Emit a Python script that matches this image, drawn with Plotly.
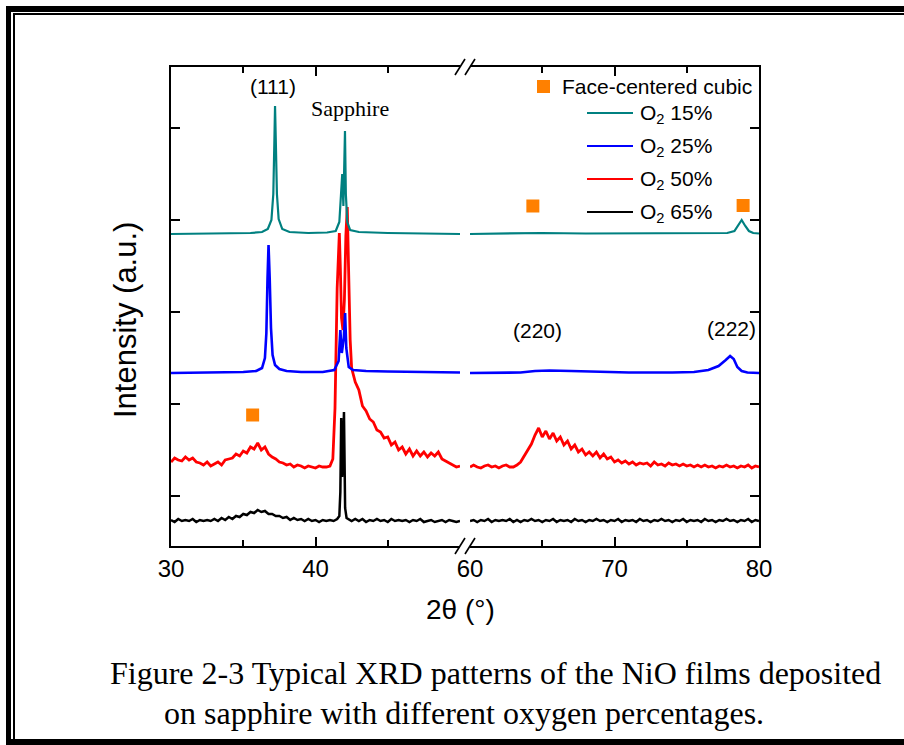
import numpy as np
import plotly.graph_objects as go

# ---------------------------------------------------------------------------
# XRD patterns of NiO films on sapphire (stacked, arbitrary units)
# Intensities are relative to each pattern's own baseline.
# ---------------------------------------------------------------------------

# O2 15 %  (teal)
O2_15_LEFT_X = [30, 32, 34, 35.5, 36.3, 36.7, 36.95, 37.08, 37.15, 37.2,
                37.25, 37.33, 37.45, 37.7, 38.2, 39.5, 40.8, 41.4, 41.65, 41.78,
                41.85, 41.93, 42.0, 42.04, 42.1, 42.2, 42.4, 43.0, 45.0, 47.0, 50.0]
O2_15_LEFT_Y = [0, 0.5, 0.5, 1, 2, 5, 14, 40, 90, 128,
                95, 40, 15, 5, 2, 1, 1.5, 3, 12, 45,
                60, 28, 95, 103, 40, 12, 4, 2, 1, 0.5, 0]
O2_15_RIGHT_X = [60, 63, 65, 68, 72, 76, 77.8, 78.3, 78.55, 78.8, 79.05, 79.3, 79.6, 80]
O2_15_RIGHT_Y = [0, 0.5, 1, 0.5, 0.5, 0.5, 1, 3, 8, 14, 8, 3, 1, 0.5]

# O2 25 %  (blue)
O2_25_LEFT_X = [30, 33, 35, 35.9, 36.3, 36.5, 36.6, 36.68, 36.75, 36.83,
                36.92, 37.03, 37.2, 37.5, 38.0, 39.0, 40.5, 41.3, 41.6, 41.72,
                41.82, 41.96, 42.05, 42.13, 42.3, 42.6, 43.5, 45.0, 47.0, 50.0]
O2_25_LEFT_Y = [0, 0.5, 1, 2, 5, 15, 40, 95, 128, 95,
                45, 18, 8, 4, 2, 1, 1, 3, 12, 43,
                20, 35, 60, 25, 6, 3, 2, 1.5, 1, 0.5]
O2_25_RIGHT_X = [60, 62, 63.5, 64.5, 65.5, 67, 69, 71, 74, 75.5,
                 76.5, 77.2, 77.7, 78.0, 78.25, 78.5, 78.8, 79.2, 80]
O2_25_RIGHT_Y = [0, 0, 0.5, 2, 2.5, 2, 1, 0.5, 0.5, 1,
                 3, 7, 13, 17, 14, 6, 2, 0.5, 0]

# O2 50 %  (red) -- scan steps of 0.25 deg plus the sapphire region
O2_50_LOW = [6, 10, 8, 7,      # 30
             11, 8, 10, 6,     # 31
             5, 3, 6, 2,       # 32
             4, 6, 3, 8,       # 33
             9, 10, 14, 12,    # 34
             17, 15, 21, 19,   # 35
             25, 18, 21, 14,   # 36
             11, 9, 6, 5,      # 37
             3, 4, 1, 3,       # 38
             2, 0, 2, 1,       # 39
             0, 2, 1, 1,       # 40
             2]                # 41.00
O2_50_PEAK_X = [41.2, 41.35, 41.5, 41.6, 41.65, 41.72, 41.8, 41.9, 42.0, 42.1,
                42.2, 42.28, 42.4]
O2_50_PEAK_Y = [9, 60, 180, 226, 235, 200, 150, 138, 168, 232,
                261, 205, 128]
O2_50_HIGH = [100, 86,           # 42.5
              78, 62, 57, 49,    # 43
              46, 38, 36, 30,    # 44
              31, 23, 26, 18,    # 45
              21, 14, 19, 12,    # 46
              17, 12, 16, 11,    # 47
              15, 12, 16, 9,     # 48
              7, 5, 3, 1,        # 49
              2]                 # 50
O2_50_RIGHT = [1, 3, 1, 0,       # 60
               2, 3, 1, 2,       # 61
               0, 2, 3, 1,       # 62
               1, 3, 6, 12,      # 63
               18, 24, 33, 40,   # 64
               31, 37, 29, 35,   # 65
               27, 31, 23, 27,   # 66
               19, 23, 16, 19,   # 67
               13, 16, 12, 16,   # 68
               10, 14, 9, 11,    # 69
               6, 8, 5, 7,       # 70
               4, 6, 3, 5,       # 71
               4, 5, 2, 6,       # 72
               3, 4, 2, 5,       # 73
               3, 4, 2, 4,       # 74
               2, 3, 1, 3,       # 75
               1, 3, 1, 2,       # 76
               0, 2, 1, 3,       # 77
               1, 2, 0, 2,       # 78
               1, 3, 0, 2,       # 79
               1]                # 80

# O2 65 %  (black)
O2_65_LOW = [2, 0, 3, 1,         # 30
             2, 1, 3, 0,         # 31
             2, 1, 2, 1,         # 32
             3, 1, 4, 2,         # 33
             5, 3, 6, 5,         # 34
             8, 7, 10, 9,        # 35
             12, 10, 11, 8,      # 36
             8, 6, 6, 4,         # 37
             5, 2, 4, 2,         # 38
             3, 1, 3, 1,         # 39
             2, 0, 2, 1,         # 40
             2, 1, 3]            # 41.0 - 41.5
O2_65_PEAK_X = [41.65, 41.72, 41.78, 41.84, 41.9, 41.97, 42.05, 42.15]
O2_65_PEAK_Y = [6, 30, 104, 45, 60, 110, 14, 4]
O2_65_HIGH = [3, 1, 3,           # 42.25 - 42.75
              1, 3, 0, 2,        # 43
              1, 3, 1, 2,        # 44
              0, 3, 1, 2,        # 45
              1, 2, 0, 2,        # 46
              1, 3, 0, 1,        # 47
              2, 0, 1, 2,        # 48
              0, 2, 1, 0,        # 49
              1]                 # 50
O2_65_RIGHT = [1, 2, 0, 2,  1, 3, 0, 2,  1, 2, 1, 3,  0, 2, 0, 2,
               1, 3, 1, 2,  0, 2, 1, 3,  0, 2, 1, 2,  0, 3, 1, 2,
               0, 2, 1, 3,  1, 2, 0, 2,  1, 3, 0, 2,  1, 2, 0, 3,
               1, 2, 0, 2,  1, 3, 1, 2,  0, 2, 1, 3,  0, 2, 1, 2,
               0, 3, 1, 2,  0, 2, 1, 3,  1, 2, 0, 2,  1, 3, 0, 2,
               1]

# Face-centred cubic reflections marked on the patterns
FCC_LEFT_X, FCC_LEFT_Y = [35.65], [131]
FCC_RIGHT_X, FCC_RIGHT_Y = [64.35, 78.9], [340, 340.5]

SERIES_NAMES = ["O<sub>2</sub> 15%", "O<sub>2</sub> 25%", "O<sub>2</sub> 50%", "O<sub>2</sub> 65%"]
TICKS_LEFT = [30, 40]
TICKS_RIGHT = [60, 70, 80]

# ---------------------------------------------------------------------------
# vertical stacking offsets and styles
OFFSET = {"15": 312, "25": 173, "50": 78, "65": 24}
COLOR = {"15": "#008080", "25": "#0000FF", "50": "#FF0000", "65": "#000000"}
WIDTH = {"15": 2.2, "25": 2.6, "50": 2.8, "65": 2.5}
ORANGE = "#FF8000"
SANS = "Liberation Sans"
SERIF = "Liberation Serif"

step_low = np.arange(30, 41.001, 0.25)
step_right = np.arange(60, 80.001, 0.25)

curves = {
    "15": (O2_15_LEFT_X, O2_15_LEFT_Y, O2_15_RIGHT_X, O2_15_RIGHT_Y),
    "25": (O2_25_LEFT_X, O2_25_LEFT_Y, O2_25_RIGHT_X, O2_25_RIGHT_Y),
    "50": (np.concatenate([step_low, O2_50_PEAK_X, np.arange(42.5, 50.001, 0.25)]),
           np.concatenate([O2_50_LOW, O2_50_PEAK_Y, O2_50_HIGH]),
           step_right, O2_50_RIGHT),
    "65": (np.concatenate([np.arange(30, 41.501, 0.25), O2_65_PEAK_X, np.arange(42.25, 50.001, 0.25)]),
           np.concatenate([O2_65_LOW, O2_65_PEAK_Y, O2_65_HIGH]),
           step_right, O2_65_RIGHT),
}

fig = go.Figure()
for key in ["65", "50", "25", "15"]:
    lx, ly, rx, ry = curves[key]
    line = dict(color=COLOR[key], width=WIDTH[key])
    fig.add_trace(go.Scatter(x=lx, y=np.asarray(ly, float) + OFFSET[key], mode="lines",
                             line=line, xaxis="x", yaxis="y", showlegend=False,
                             hoverinfo="skip"))
    fig.add_trace(go.Scatter(x=rx, y=np.asarray(ry, float) + OFFSET[key], mode="lines",
                             line=line, xaxis="x2", yaxis="y2", showlegend=False,
                             hoverinfo="skip"))

square = dict(symbol="square", size=13, color=ORANGE)
fig.add_trace(go.Scatter(x=FCC_LEFT_X, y=FCC_LEFT_Y, mode="markers", marker=square,
                         xaxis="x", yaxis="y", showlegend=False))
fig.add_trace(go.Scatter(x=FCC_RIGHT_X, y=FCC_RIGHT_Y, mode="markers", marker=square,
                         xaxis="x2", yaxis="y2", showlegend=False))

# ---------------------------------------------------------------------------
# frame geometry (pixels of the 904 x 745 page)
L, R, T, B = 171, 759, 67, 546
W, H = R - L, B - T


def px(x):
    return (x - L) / W


def py(y):
    return (B - y) / H


tickfont = dict(family=SANS, size=24, color="black")
xcommon = dict(ticks="inside", ticklen=9, tickwidth=1.5, tickcolor="black",
               showline=True, linewidth=2, linecolor="black", mirror="ticks",
               showgrid=False, zeroline=False, tickfont=tickfont)
ycommon = dict(domain=[0, 1], range=[0, H], tickvals=[50, 142, 234, 326, 418],
               showticklabels=False, ticks="inside", ticklen=9, tickwidth=1.5,
               tickcolor="black", showline=True, linewidth=2, linecolor="black",
               showgrid=False, zeroline=False)

fig.update_layout(
    width=904, height=745,
    margin=dict(l=L, r=904 - R, t=T, b=745 - B),
    paper_bgcolor="white", plot_bgcolor="white",
    xaxis=dict(domain=[0, px(460)], range=[30, 50], tickvals=TICKS_LEFT, anchor="y",
               minor=dict(tickvals=[35, 45], ticks="inside", ticklen=6, tickwidth=1.5,
                          tickcolor="black"),
               **xcommon),
    xaxis2=dict(domain=[px(470), 1], range=[60, 80], tickvals=TICKS_RIGHT, anchor="y2",
                minor=dict(tickvals=[65, 75], ticks="inside", ticklen=6, tickwidth=1.5,
                           tickcolor="black"),
                **xcommon),
    yaxis=dict(anchor="x", side="left", **ycommon),
    yaxis2=dict(anchor="x2", side="right", **ycommon),
)

shapes = []
# axis-break marks, bottom and top
for yc in (B, T):
    for x0 in (455, 465):
        shapes.append(dict(type="line", xref="paper", yref="paper",
                           x0=px(x0), y0=py(yc + 8), x1=px(x0 + 10), y1=py(yc - 8),
                           line=dict(color="black", width=1.6)))
# legend keys
shapes.append(dict(type="rect", xref="paper", yref="paper",
                   x0=px(537), x1=px(550), y0=py(93), y1=py(80),
                   fillcolor=ORANGE, line=dict(width=0)))
legend_rows = [113, 146, 179, 212]
for key, yr in zip(["15", "25", "50", "65"], legend_rows):
    shapes.append(dict(type="line", xref="paper", yref="paper",
                       x0=px(587), x1=px(633), y0=py(yr), y1=py(yr),
                       line=dict(color=COLOR[key], width=2)))
# page border (double rule)
for x0, y0, x1, y1 in [(6, 6, 11, 745), (6, 6, 904, 12), (6, 739, 904, 745),
                       (13, 13, 15, 740), (13, 13, 904, 15)]:
    shapes.append(dict(type="rect", xref="paper", yref="paper",
                       x0=px(x0), x1=px(x1), y0=py(y1), y1=py(y0),
                       fillcolor="black", line=dict(width=0)))
fig.update_layout(shapes=shapes)

ann = []


def text(s, x, y, size, family=SANS, xanchor="center", angle=0):
    ann.append(dict(text=s, xref="paper", yref="paper", x=px(x), y=py(y),
                    xanchor=xanchor, yanchor="middle", showarrow=False,
                    textangle=angle, font=dict(family=family, size=size, color="black")))


text("(111)", 273, 86, 21)
text("Sapphire", 350, 108, 22, family=SERIF)
text("(220)", 537, 330, 21)
text("(222)", 731, 328, 21)
text("Face-centered cubic", 560, 86, 21, xanchor="left")
for name, yr in zip(SERIES_NAMES, legend_rows):
    text(name, 638, yr + 1, 21, xanchor="left")
text("Intensity (a.u.)", 125, 320, 31, angle=-90)
text("2θ (°)", 460, 609, 28)
text("Figure 2-3 Typical XRD patterns of the NiO films deposited", 108, 673, 32,
     family=SERIF, xanchor="left")
text("on sapphire with different oxygen percentages.", 162, 713, 32,
     family=SERIF, xanchor="left")
fig.update_layout(annotations=ann)

fig.write_html("out.html")
